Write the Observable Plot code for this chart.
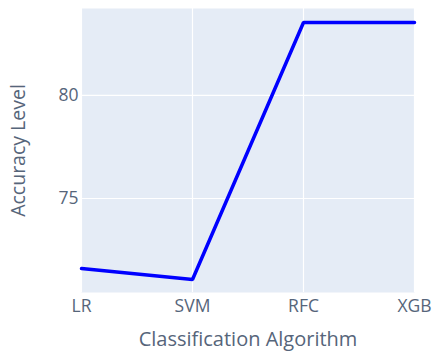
<!DOCTYPE html>
<html>
<head>
<meta charset="utf-8">
<script src="https://cdn.jsdelivr.net/npm/d3@7"></script>
<script src="https://cdn.jsdelivr.net/npm/@observablehq/plot@0.6"></script>
<style>
  html, body { margin: 0; padding: 0; background: #fff; }
  #chart svg { display: block; }
</style>
</head>
<body>
<div id="chart"></div>
<script>
const algorithms = ["LR", "SVM", "RFC", "XGB"];
const accuracy = [71.6, 71.07, 83.54, 83.54];
const yTicks = [75, 80];
const xTitle = "Classification Algorithm";
const yTitle = "Accuracy Level";

const data = algorithms.map((a, i) => ({algorithm: a, accuracy: accuracy[i]}));
const textColor = "#56657a";

const chart = Plot.plot({
  width: 432,
  height: 351,
  marginLeft: 81,
  marginRight: 18,
  marginTop: 8,
  marginBottom: 59,
  style: {fontFamily: "'Open Sans', sans-serif", color: textColor, background: "#fff"},
  x: {type: "point", domain: algorithms, padding: 0},
  y: {domain: [70.44, 84.22]},
  marks: [
    Plot.frame({fill: "#E5ECF6", stroke: null}),
    Plot.gridX(algorithms, {stroke: "#fff", strokeOpacity: 1, strokeWidth: 1.2}),
    Plot.gridY(yTicks, {stroke: "#fff", strokeOpacity: 1, strokeWidth: 1.2}),
    Plot.axisX({tickSize: 0, tickPadding: 7, fontSize: 17.5, label: null, fill: textColor}),
    Plot.axisY(yTicks, {tickSize: 0, tickPadding: 3, fontSize: 17.5, label: null, fill: textColor}),
    Plot.line(data, {x: "algorithm", y: "accuracy", stroke: "#0000ff", strokeWidth: 3.5, strokeLinejoin: "miter"}),
    Plot.text([xTitle], {frameAnchor: "bottom", lineAnchor: "middle", textAnchor: "middle", dy: 47, fontSize: 20, fill: textColor}),
    Plot.text([yTitle], {frameAnchor: "left", lineAnchor: "middle", textAnchor: "middle", rotate: -90, dx: -63, fontSize: 19.5, fill: textColor})
  ]
});
document.getElementById("chart").appendChild(chart);
</script>
</body>
</html>
